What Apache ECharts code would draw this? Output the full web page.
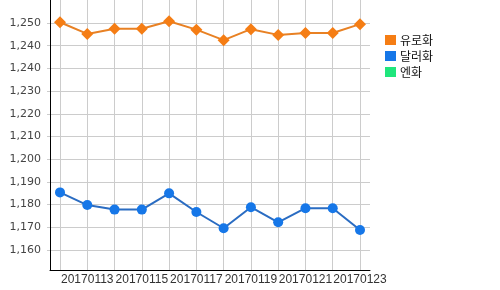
<!DOCTYPE html>
<html>
<head>
<meta charset="utf-8">
<script src="https://cdn.jsdelivr.net/npm/echarts@6/dist/echarts.min.js"></script>
<style>html,body{margin:0;padding:0;background:#fff;}#c{width:500px;height:290px;}</style>
</head>
<body>
<div id="c"></div>
<script>
var categories = ['20170112','20170113','20170114','20170115','20170116','20170117','20170118','20170119','20170120','20170121','20170122','20170123'];
var euroValues = [1254.3, 1249.4, 1251.6, 1251.6, 1254.7, 1251.2, 1246.8, 1251.4, 1249.0, 1249.8, 1249.8, 1253.5];
var dollarValues = [1183.1, 1177.8, 1175.9, 1175.9, 1182.7, 1174.9, 1168.1, 1176.9, 1170.6, 1176.5, 1176.5, 1167.4];
var yenValues = [];
var yTickValues = [1159, 1168.5, 1178, 1187.5, 1197, 1206.5, 1216, 1225.5, 1235, 1244.5, 1254];
var yTickLabels = ['1,160','1,170','1,180','1,190','1,200','1,210','1,220','1,230','1,240','1,240','1,250'];
var xLabelIndices = [1, 3, 5, 7, 9, 11];
var seriesNames = ['유로화', '달러화', '엔화'];

var xGridIndices = categories.map(function (c, i) { return i; });
function pairs(arr) { return arr.map(function (v, i) { return [i, v]; }); }

var chart = echarts.init(document.getElementById('c'), null, {renderer: 'canvas'});
chart.setOption({
  animation: false,
  backgroundColor: '#fff',
  grid: {left: 50, right: 130, top: 0, bottom: 20, containLabel: false},
  legend: {
    orient: 'vertical', left: 380, top: 29,
    itemWidth: 11, itemHeight: 10, itemGap: 4,
    icon: 'rect',
    textStyle: {fontFamily: 'Noto Sans CJK KR', fontSize: 12, color: '#111', padding: [0, 0, 0, -1]},
    data: seriesNames
  },
  xAxis: {
    type: 'value', min: -0.3667, max: 11.3667,
    axisLine: {show: true, onZero: false, lineStyle: {color: '#000', width: 1}},
    axisTick: {show: false, customValues: xGridIndices},
    splitLine: {show: true, lineStyle: {color: '#cccccc', width: 1}},
    axisLabel: {
      customValues: xLabelIndices, margin: 4,
      showMinLabel: true, showMaxLabel: true, hideOverlap: false,
      fontFamily: 'Liberation Sans', fontSize: 12, color: '#333',
      formatter: function (v) { return categories[Math.round(v)]; }
    }
  },
  yAxis: {
    type: 'value', min: 1150.63, max: 1263.6,
    axisLine: {show: true, onZero: false, lineStyle: {color: '#000', width: 1}},
    axisTick: {show: true, customValues: yTickValues, length: 3, lineStyle: {color: '#cccccc'}},
    splitLine: {show: true, lineStyle: {color: '#cccccc', width: 1}},
    axisLabel: {
      customValues: yTickValues, margin: 9,
      showMinLabel: true, showMaxLabel: true,
      fontFamily: 'DejaVu Sans', fontSize: 11, color: '#444',
      formatter: function (v, idx) {
        var k = yTickValues.indexOf(v);
        if (k < 0) { k = idx; }
        return yTickLabels[k];
      }
    }
  },
  series: [
    {
      name: seriesNames[0], type: 'line', data: pairs(euroValues),
      symbol: 'diamond', symbolSize: 12,
      itemStyle: {color: '#f57d14'},
      lineStyle: {color: '#e88124', width: 2}
    },
    {
      name: seriesNames[1], type: 'line', data: pairs(dollarValues),
      symbol: 'circle', symbolSize: 10,
      itemStyle: {color: '#1677e8'},
      lineStyle: {color: '#2a6cc2', width: 2}
    },
    {
      name: seriesNames[2], type: 'line', data: pairs(yenValues),
      itemStyle: {color: '#1fe67c'},
      lineStyle: {color: '#1fe67c'}
    }
  ]
});
</script>
</body>
</html>
